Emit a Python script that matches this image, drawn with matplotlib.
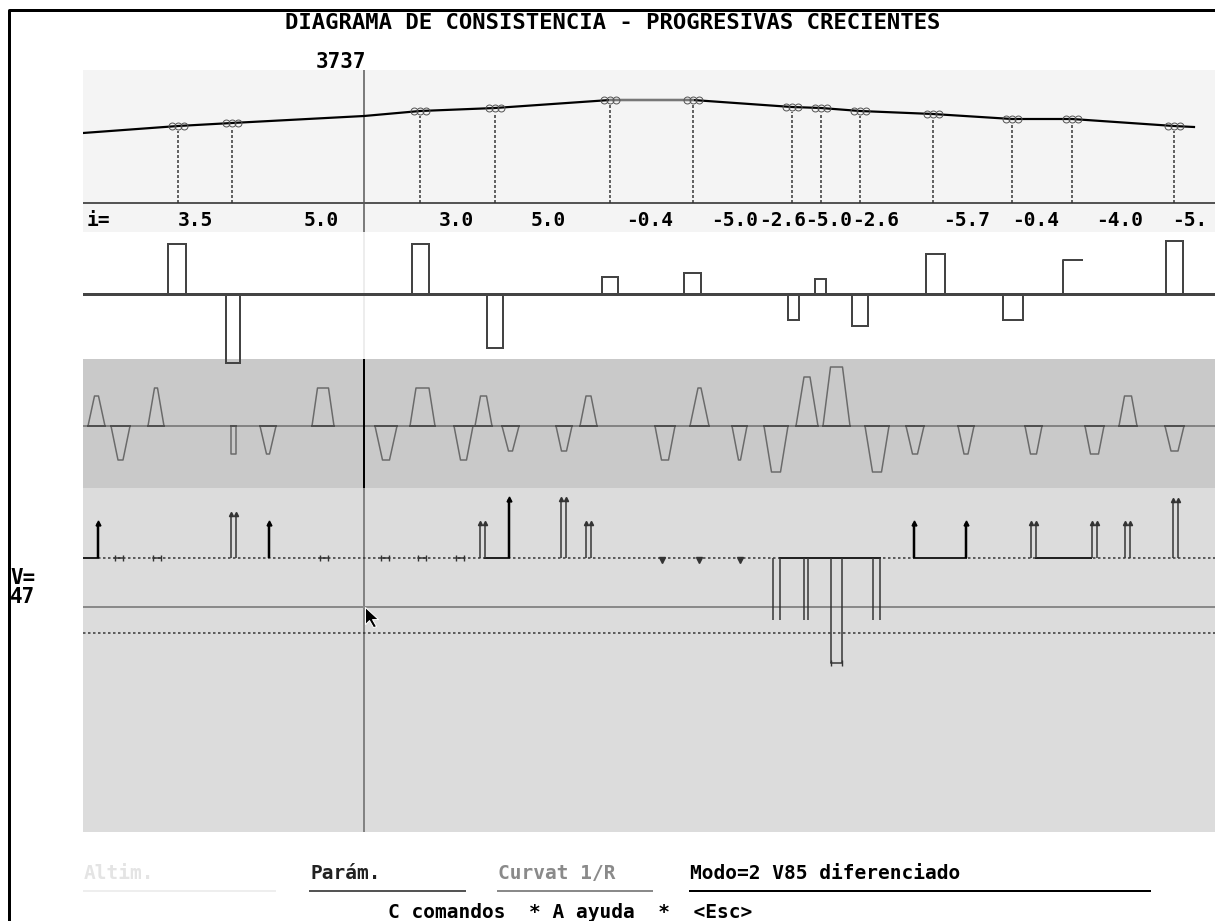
import matplotlib
matplotlib.use("Agg")
import matplotlib.pyplot as plt
from matplotlib.path import Path
from matplotlib.transforms import offset_copy

plt.rcParams["lines.scale_dashes"] = False
plt.rcParams["font.family"] = ["DejaVu Sans Mono"]

W, H = 1215, 921
X0, X1 = 83, 1215
PX = 0.72          # un pixel de pantalla en puntos (dpi=100)
FS = 15
CURSOR = 364       # progresiva del cursor (3737)

# --- perfil longitudinal: progresiva (px) y cota relativa a la linea base ---
perfil_x = [83, 178, 232, 364, 420, 495, 610, 693, 792, 821, 860, 933, 1012, 1072, 1174, 1194]
perfil_z = [70, 77, 80, 87, 92, 95, 103, 103, 96, 95, 92, 89, 84, 84, 77, 76]
pcv_x = [178, 232, 420, 495, 610, 693, 792, 821, 860, 933, 1012, 1072, 1174]
pcv_z = [77, 80, 92, 95, 103, 103, 96, 95, 92, 89, 84, 84, 77]

# pendientes i (%)
pend_txt = ["3.5", "5.0", "3.0", "5.0", "-0.4", "-5.0", "-2.6", "-5.0", "-2.6",
            "-5.7", "-0.4", "-4.0", "-5."]
pend_x = [195, 321, 456, 548, 650, 735, 783, 829, 876, 967, 1036, 1120, 1190]

# --- diagrama de curvatura 1/R ---
curv_izq = [168, 226, 412, 487, 602, 684, 788, 815, 852, 926, 1003, 1063, 1166]
curv_der = [186, 240, 429, 503, 618, 701, 799, 826, 868, 945, 1023, 1082, 1183]
curv_val = [50, -69, 50, -54, 17, 21, -26, 15, -32, 40, -26, 34, 53]
curv_abierta = [False] * 11 + [True, False]

# --- diagrama de peraltes / transiciones (trapecios) ---
trap_x = [96.5, 120.5, 156, 233.5, 268, 323, 386, 422.5, 463.5, 483.5, 510.5, 564,
          588.5, 665, 699.5, 739.5, 776, 807, 836.5, 877, 915, 966, 1033.5, 1094.5,
          1128, 1174.5]
trap_h = [30, -34, 38, -28, -28, 38, -34, 38, -34, 30, -25, -25,
          30, -34, 38, -34, -46, 49, 59, -46, -28, -28, -28, -28,
          30, -25]
trap_base = [17, 19, 16, 5, 16, 22, 22, 25, 19, 17, 17, 16,
             17, 20, 19, 15, 24, 22, 27, 24, 18, 16, 17, 19,
             18, 19]
trap_tope = [4, 5, 3, 5, 3, 11, 7, 13, 6, 6, 4, 5,
             5, 7, 3, 2, 9, 6, 12, 9, 5, 4, 6, 8,
             7, 7]

# --- V85 diferenciado ---
lim_sup, eje, lim_inf = 0, -49, -75
simple_x = [98, 269, 509, 914, 966]
simple_v = [35, 35, 59, 35, 35]
doble_x = [233.5, 482.5, 563, 588.5, 1033.5, 1094.5, 1127.5, 1175]
doble_v = [44, 35, 59, 35, 35, 35, 35, 58]
bajada_x1 = [773, 804, 831, 873]
bajada_x2 = [780, 808, 842, 880]
bajada_v = [-62, -62, -105, -62]
tramo_ini = [83, 485, 780, 914, 1036]
tramo_fin = [98, 509, 880, 966, 1091]
cero_x = [119, 157, 324, 385, 422, 460]
baja_x = [662, 699, 740]

menu_txt = ["Altim.", "Parám.", "Curvat 1/R", "Modo=2 V85 diferenciado"]
menu_x0 = [84, 310, 498, 690]
menu_x1 = [275, 465, 652, 1150]
menu_col = ["#e4e4e4", "#222222", "#8a8a8a", "#000000"]
menu_lin = ["#eeeeee", "#555555", "#8a8a8a", "#000000"]


def panel(top, bottom, color, y_base):
    ax = fig.add_axes([X0 / W, 1 - bottom / H, (X1 - X0) / W, (bottom - top) / H])
    ax.set_facecolor(color)
    ax.set_xlim(X0, X1)
    ax.set_ylim(y_base - bottom, y_base - top)
    ax.set_xticks([])
    ax.set_yticks([])
    for s in ax.spines.values():
        s.set_visible(False)
    return ax


fig = plt.figure(figsize=(W / 100, H / 100), dpi=100)
fig.patch.set_facecolor("white")

fondo = fig.add_axes([0, 0, 1, 1])
fondo.set_xlim(0, W)
fondo.set_ylim(H, 0)
fondo.axis("off")

# marco de la ventana
fondo.plot([9, 9, W], [H, 10, 10], color="black", lw=3 * PX, solid_capstyle="butt")
fondo.text(613, 23, "DIAGRAMA DE CONSISTENCIA - PROGRESIVAS CRECIENTES",
           ha="center", va="center", fontsize=16, fontweight="bold")
fondo.text(366, 62, "3737", ha="right", va="center", fontsize=FS, fontweight="bold")
fondo.text(10, 578, "V=", ha="left", va="center", fontsize=FS, fontweight="bold")
fondo.text(10, 597, "47", ha="left", va="center", fontsize=FS, fontweight="bold")

# menu inferior
for t, a, b, c, cl in zip(menu_txt, menu_x0, menu_x1, menu_col, menu_lin):
    fondo.text(a, 873, t, ha="left", va="center", fontsize=FS - 1, color=c,
               fontweight="bold")
    fondo.plot([a, b], [891, 891], color=cl, lw=2 * PX)
fondo.text(388, 912, "C comandos  * A ayuda  *  <Esc>", ha="left", va="center",
           fontsize=FS - 1, fontweight="bold")

# ---- perfil ----
ax1 = panel(70, 232, "#f4f4f4", 203)
ax1.axhline(0, color="#555555", lw=2 * PX)
ax1.axvline(CURSOR, color="#555555", lw=1.5 * PX)
ax1.plot(perfil_x, perfil_z, color="black", lw=2.2 * PX)
ax1.plot(perfil_x[6:8], perfil_z[6:8], color="#777777", lw=2.2 * PX)
ax1.vlines(pcv_x, 0, [z - 5 for z in pcv_z], colors="#333333", lw=1.5 * PX,
           linestyles=[(0, (3 * PX, 2 * PX))])
for dx in (-6, 0, 6):
    tr = offset_copy(ax1.transData, fig=fig, x=dx, y=0, units="dots")
    ax1.plot(pcv_x, pcv_z, "o", ms=5, mfc="none", mec="#555555", mew=1 * PX,
             transform=tr)
ax1.text(87, -17, "i=", ha="left", va="center", fontsize=14, fontweight="bold")
for t, x in zip(pend_txt, pend_x):
    ax1.text(x, -17, t, ha="center", va="center", fontsize=14, fontweight="bold")

# ---- curvatura ----
ax3 = panel(359, 488, "#c9c9c9", 426)
ax2 = panel(232, 359, "white", 294)
ax2.set_zorder(3)
ax2.axvline(CURSOR, color="#e8e8e8", lw=1.5 * PX)
ax2.axhline(0, color="#444444", lw=3 * PX)
for a, b, v, ab in zip(curv_izq, curv_der, curv_val, curv_abierta):
    if ab:
        ax2.plot([a, a, b], [0, v, v], color="#444444", lw=2 * PX, clip_on=False)
    else:
        ax2.bar(a, v, width=b - a, align="edge", fill=False, edgecolor="#444444",
                lw=2 * PX, clip_on=False)

# ---- trapecios ----
ax3.axhline(0, color="#6e6e6e", lw=1.5 * PX)
ax3.axvline(CURSOR, color="black", lw=2 * PX)
for x, h, bw, tw in zip(trap_x, trap_h, trap_base, trap_tope):
    ax3.plot([x - bw / 2, x - tw / 2, x + tw / 2, x + bw / 2], [0, h, h, 0],
             color="#6a6a6a", lw=1.5 * PX)
    ax3.plot([x - bw / 2, x + bw / 2], [0, 0], color="#505050", lw=2 * PX)

# ---- V85 ----
ax4 = panel(488, 832, "#dcdcdc", 558)
ax4.axvline(CURSOR, color="#666666", lw=1.5 * PX)
punteada = (0, (2.5 * PX, 2.5 * PX))
ax4.axhline(lim_sup, color="#333333", lw=1.5 * PX, linestyle=punteada)
ax4.axhline(lim_inf, color="#333333", lw=1.5 * PX, linestyle=punteada)
ax4.axhline(eje, color="#8a8a8a", lw=2 * PX)
for a, b in zip(tramo_ini, tramo_fin):
    ax4.plot([a, b], [lim_sup, lim_sup], color="#222222", lw=2 * PX)
ax4.vlines(simple_x, lim_sup, simple_v, colors="black", lw=2.5 * PX)
ax4.plot(simple_x, simple_v, "^", ms=3.5, color="black")
for dx in (-2.5, 2.5):
    xs = [x + dx for x in doble_x]
    ax4.vlines(xs, lim_sup, doble_v, colors="#333333", lw=1.5 * PX)
    ax4.plot(xs, doble_v, "^", ms=3, color="#333333")
ax4.vlines(bajada_x1, lim_sup, bajada_v, colors="#333333", lw=1.5 * PX)
ax4.vlines(bajada_x2, lim_sup, bajada_v, colors="#333333", lw=1.5 * PX)
for a, b, v in zip(bajada_x1, bajada_x2, bajada_v):
    if v < lim_inf:
        ax4.plot([a, b], [v, v], color="#333333", lw=1.5 * PX, marker="|", ms=4)
for x in cero_x:
    ax4.plot([x - 4, x + 4], [lim_sup, lim_sup], color="#333333", lw=1.5 * PX,
             marker="|", ms=5)
ax4.plot(baja_x, [lim_sup - 2] * len(baja_x), "v", ms=4, color="#333333")

# puntero del raton
flecha = Path([(0, 0), (0, -17), (4, -13), (8, -20), (11, -19), (7, -12),
               (13, -12), (0, 0)],
              [Path.MOVETO] + [Path.LINETO] * 6 + [Path.CLOSEPOLY])
ax4.plot(CURSOR + 1, eje, marker=flecha, ms=29, color="black", mec="white",
         mew=1 * PX)

fig.savefig("out.png", dpi=100, facecolor="white")
